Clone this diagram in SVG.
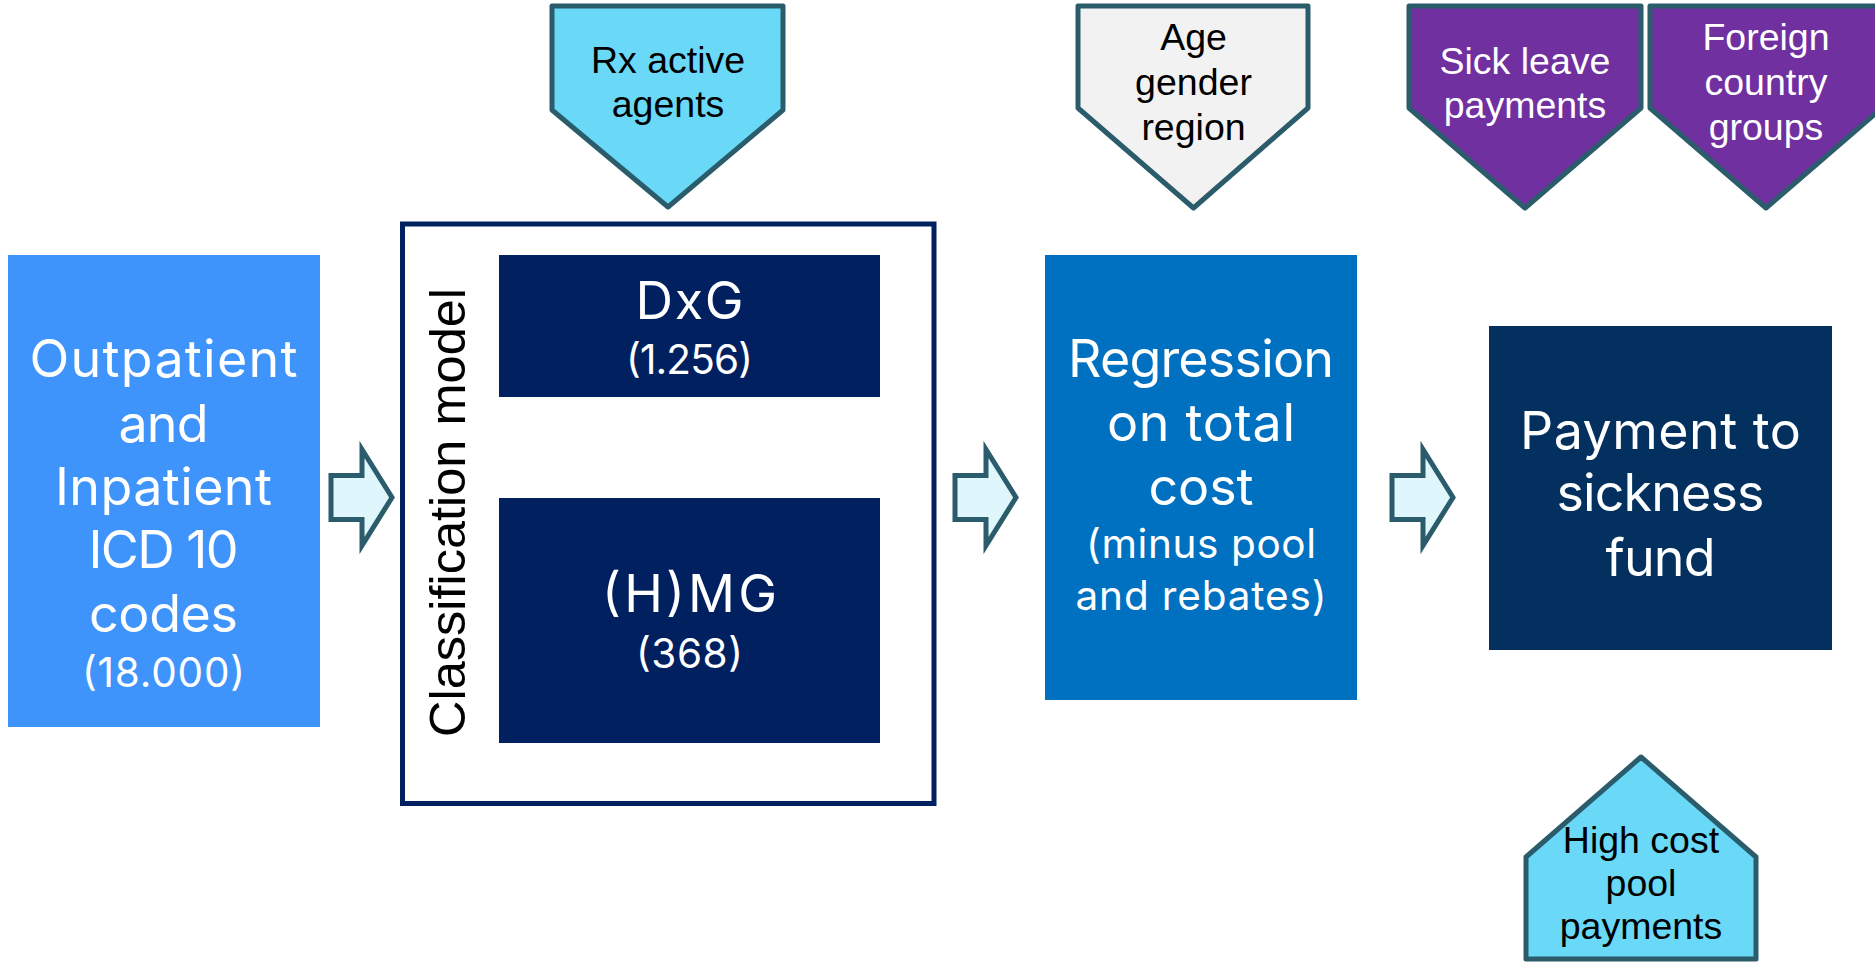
<svg xmlns="http://www.w3.org/2000/svg" width="1875" height="963" viewBox="0 0 1875 963">
  <style>
    .geo { font-family: Inter, Lato, "Open Sans", sans-serif; fill: #ffffff; text-anchor: middle; }
    .big { font-size: 52px; }
    .small { font-size: 40.5px; }
    .lab { font-family: "Liberation Sans", Arial, sans-serif; font-size: 37.5px; text-anchor: middle; }
    .tag { stroke: #2B5C6B; stroke-width: 5; stroke-linejoin: round; }
    .flow { fill: #E0F6FD; stroke: #2B5C6B; stroke-width: 5; stroke-linejoin: miter; }
  </style>
  <defs>
    <!-- block arrow pointing right, origin at the middle of its tail -->
    <path id="blockArrow" d="M0,-22 H31 V-48 L61,0 L31,48 V22 H0 Z"/>
  </defs>
  <rect width="1875" height="963" fill="#ffffff"/>

  <!-- connectors -->
  <g id="connectors">
    <use href="#blockArrow" class="flow" transform="translate(331,497.5)"/>
    <use href="#blockArrow" class="flow" transform="translate(955,497.5)"/>
    <use href="#blockArrow" class="flow" transform="translate(1392,497.5)"/>
  </g>

  <!-- diagnosis codes input -->
  <g id="icd-codes">
    <rect x="8" y="255" width="312" height="472" fill="#3F94FB"/>
    <text class="geo big" x="163.5" y="377" textLength="268" lengthAdjust="spacing">Outpatient</text>
    <text class="geo big" x="163.5" y="442" textLength="90" lengthAdjust="spacing">and</text>
    <text class="geo big" x="163.5" y="505" textLength="217" lengthAdjust="spacing">Inpatient</text>
    <text class="geo big" x="163.5" y="568" textLength="150" lengthAdjust="spacing">ICD 10</text>
    <text class="geo big" x="163.5" y="632" textLength="149" lengthAdjust="spacing">codes</text>
    <text class="geo small" x="163.5" y="687" textLength="163" lengthAdjust="spacing">(18.000)</text>
  </g>

  <!-- classification model container -->
  <g id="classification-model">
    <rect x="402.5" y="224" width="531.5" height="579.5" fill="#ffffff" stroke="#002060" stroke-width="5"/>
    <text x="465" y="512.5" transform="rotate(-90 465 512.5)" font-family="'Liberation Sans', Arial, sans-serif" font-size="50.5" fill="#000000" text-anchor="middle">Classification model</text>
  </g>

  <g id="dxg">
    <rect x="499" y="255" width="381" height="142" fill="#002060"/>
    <text class="geo big" x="689.5" y="319" textLength="108" lengthAdjust="spacing">DxG</text>
    <text class="geo small" x="689.5" y="374" textLength="127" lengthAdjust="spacing">(1.256)</text>
  </g>

  <g id="hmg">
    <rect x="499" y="498" width="381" height="245" fill="#002060"/>
    <text class="geo big" x="689.5" y="612" font-size="54" textLength="175" lengthAdjust="spacing">(H)MG</text>
    <text class="geo small" x="689.5" y="668" textLength="107" lengthAdjust="spacing">(368)</text>
  </g>

  <!-- regression step -->
  <g id="regression">
    <rect x="1045" y="255" width="312" height="445" fill="#0070C0"/>
    <text class="geo big" x="1201" y="377" textLength="266" lengthAdjust="spacing">Regression</text>
    <text class="geo big" x="1201" y="441" textLength="188" lengthAdjust="spacing">on total</text>
    <text class="geo big" x="1201" y="505" textLength="105" lengthAdjust="spacing">cost</text>
    <text class="geo small" x="1201" y="558" textLength="230" lengthAdjust="spacing">(minus pool</text>
    <text class="geo small" x="1201" y="610" textLength="251" lengthAdjust="spacing">and rebates)</text>
  </g>

  <!-- payment output -->
  <g id="payment">
    <rect x="1489" y="326" width="343" height="324" fill="#04305F"/>
    <text class="geo big" x="1660.5" y="449" textLength="281" lengthAdjust="spacing">Payment to</text>
    <text class="geo big" x="1660.5" y="511" textLength="208" lengthAdjust="spacing">sickness</text>
    <text class="geo big" x="1660.5" y="576" textLength="110" lengthAdjust="spacing">fund</text>
  </g>

  <!-- input tags -->
  <g id="rx-agents">
    <polygon class="tag" points="552,6 783,6 783,110 668,207 552,110" fill="#69D9F7"/>
    <text class="lab" x="668" y="73" fill="#000000">Rx active</text>
    <text class="lab" x="668" y="117" fill="#000000">agents</text>
  </g>

  <g id="age-gender-region">
    <polygon class="tag" points="1078,6 1308,6 1308,108 1193.5,208 1078,108" fill="#F2F2F2"/>
    <text class="lab" x="1193.5" y="50" fill="#000000">Age</text>
    <text class="lab" x="1193.5" y="95" fill="#000000">gender</text>
    <text class="lab" x="1193.5" y="140" fill="#000000">region</text>
  </g>

  <g id="sick-leave">
    <polygon class="tag" points="1409,6 1641,6 1641,108 1525,208 1409,108" fill="#7030A0"/>
    <text class="lab" x="1525" y="74" fill="#ffffff">Sick leave</text>
    <text class="lab" x="1525" y="118" fill="#ffffff">payments</text>
  </g>

  <g id="foreign-groups">
    <polygon class="tag" points="1650,6 1882,6 1882,108 1766,208 1650,108" fill="#7030A0"/>
    <text class="lab" x="1766" y="50" fill="#ffffff">Foreign</text>
    <text class="lab" x="1766" y="95" fill="#ffffff">country</text>
    <text class="lab" x="1766" y="140" fill="#ffffff">groups</text>
  </g>

  <g id="high-cost-pool">
    <polygon class="tag" points="1526,857 1641,757 1756,857 1756,959 1526,959" fill="#69D9F7"/>
    <text class="lab" x="1641" y="853" fill="#000000">High cost</text>
    <text class="lab" x="1641" y="896" fill="#000000">pool</text>
    <text class="lab" x="1641" y="939" fill="#000000">payments</text>
  </g>
</svg>
